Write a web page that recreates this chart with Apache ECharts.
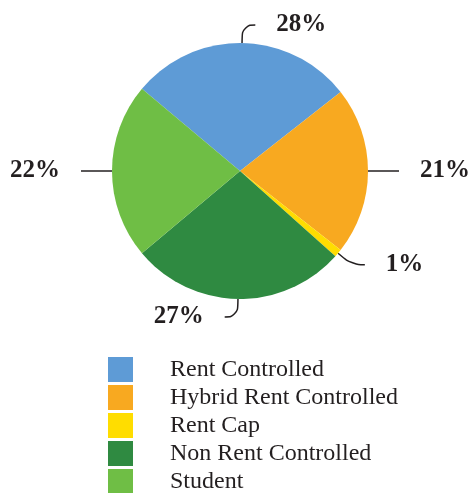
<!DOCTYPE html>
<html><head><meta charset="utf-8">
<script src="https://cdn.jsdelivr.net/npm/echarts@6/dist/echarts.min.js"></script>
<style>html,body{margin:0;padding:0;background:#fff}#c{width:469px;height:493px}</style>
</head><body><div id="c"></div>
<script>
var categories = ["Rent Controlled", "Hybrid Rent Controlled", "Rent Cap", "Non Rent Controlled", "Student"];
var values = [28, 21, 1, 27, 22];
var colors = ["#5e9bd6", "#f8a920", "#ffdd00", "#2f8a41", "#6fbe45"];

var chart = echarts.init(document.getElementById('c'), null, {renderer: 'canvas'});
chart.setOption({
  animation: false,
  color: colors,
  legend: {
    orient: 'vertical',
    left: 103, top: 352, height: 200,
    itemWidth: 25, itemHeight: 25, itemGap: 3,
    icon: 'rect',
    selectedMode: false,
    data: categories,
    textStyle: {fontFamily: 'Liberation Serif', fontSize: 24, color: '#231f20', padding: [0, 0, 0, 32]}
  },
  series: [{
    type: 'pie',
    center: [240, 171],
    radius: [0, 128],
    startAngle: 140,
    clockwise: true,
    avoidLabelOverlap: false,
    label: {
      show: true, position: 'outside',
      formatter: '{c}%',
      fontFamily: 'Liberation Serif', fontWeight: 'bold', fontSize: 25, color: '#231f20',
      distanceToLabelLine: 21
    },
    labelLine: {show: true, length: 18, length2: 13, smooth: 0.5, lineStyle: {color: '#231f20', width: 1.5}},
    itemStyle: {borderWidth: 0},
    emphasis: {disabled: true},
    data: categories.map(function (n, i) { return {name: n, value: values[i]}; })
  }]
});
</script></body></html>
